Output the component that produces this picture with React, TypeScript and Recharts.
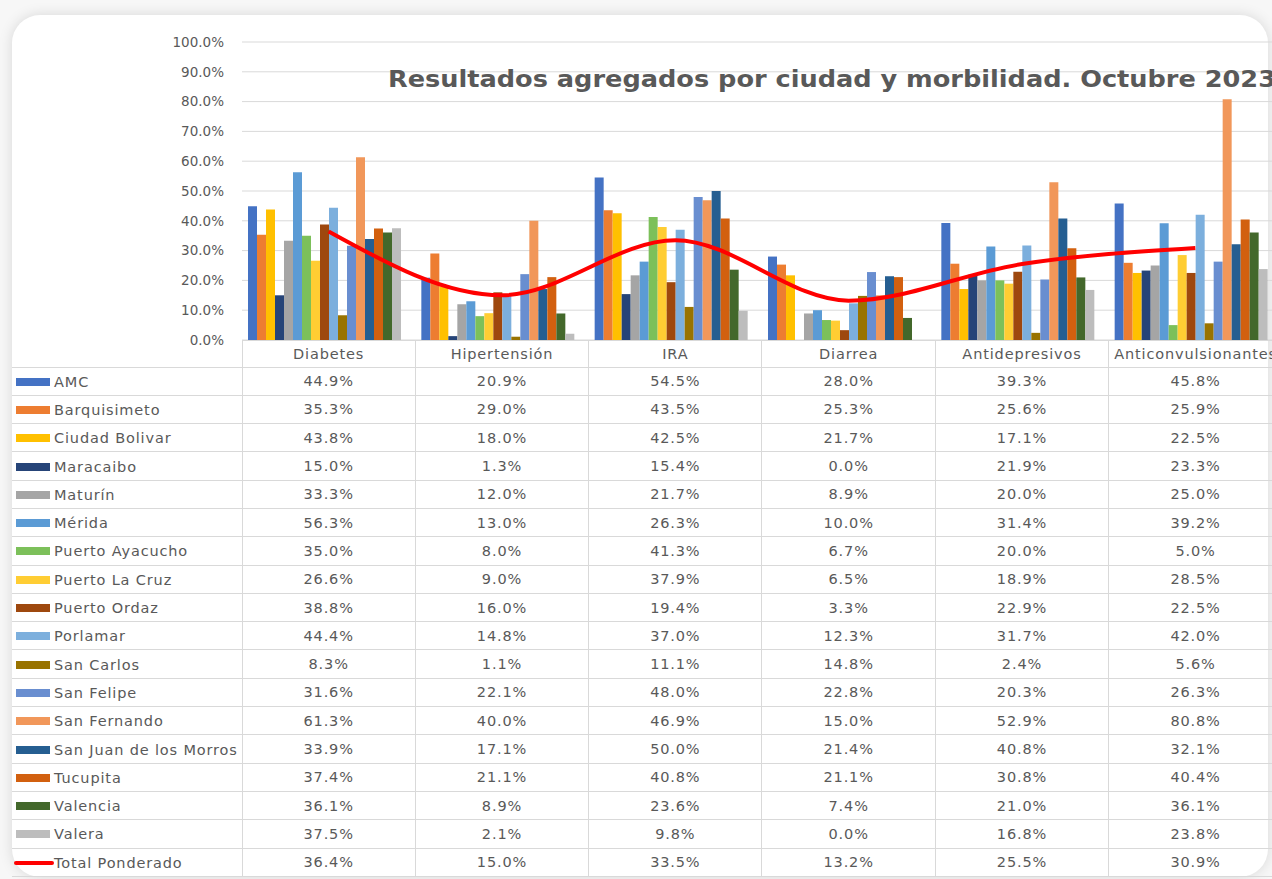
import { ComposedChart, Bar, Line, XAxis, YAxis, CartesianGrid, Customized } from 'recharts';

const categories = ['Diabetes', 'Hipertensión', 'IRA', 'Diarrea', 'Antidepresivos', 'Anticonvulsionantes'];

// % por ciudad, en el orden de categories
const amc = [44.9, 20.9, 54.5, 28.0, 39.3, 45.8];
const barquisimeto = [35.3, 29.0, 43.5, 25.3, 25.6, 25.9];
const ciudadBolivar = [43.8, 18.0, 42.5, 21.7, 17.1, 22.5];
const maracaibo = [15.0, 1.3, 15.4, 0.0, 21.9, 23.3];
const maturin = [33.3, 12.0, 21.7, 8.9, 20.0, 25.0];
const merida = [56.3, 13.0, 26.3, 10.0, 31.4, 39.2];
const puertoAyacucho = [35.0, 8.0, 41.3, 6.7, 20.0, 5.0];
const puertoLaCruz = [26.6, 9.0, 37.9, 6.5, 18.9, 28.5];
const puertoOrdaz = [38.8, 16.0, 19.4, 3.3, 22.9, 22.5];
const porlamar = [44.4, 14.8, 37.0, 12.3, 31.7, 42.0];
const sanCarlos = [8.3, 1.1, 11.1, 14.8, 2.4, 5.6];
const sanFelipe = [31.6, 22.1, 48.0, 22.8, 20.3, 26.3];
const sanFernando = [61.3, 40.0, 46.9, 15.0, 52.9, 80.8];
const sanJuan = [33.9, 17.1, 50.0, 21.4, 40.8, 32.1];
const tucupita = [37.4, 21.1, 40.8, 21.1, 30.8, 40.4];
const valencia = [36.1, 8.9, 23.6, 7.4, 21.0, 36.1];
const valera = [37.5, 2.1, 9.8, 0.0, 16.8, 23.8];
const totalPonderado = [36.4, 15.0, 33.5, 13.2, 25.5, 30.9];

const cities = [
  { name: 'AMC', values: amc },
  { name: 'Barquisimeto', values: barquisimeto },
  { name: 'Ciudad Bolivar', values: ciudadBolivar },
  { name: 'Maracaibo', values: maracaibo },
  { name: 'Maturín', values: maturin },
  { name: 'Mérida', values: merida },
  { name: 'Puerto Ayacucho', values: puertoAyacucho },
  { name: 'Puerto La Cruz', values: puertoLaCruz },
  { name: 'Puerto Ordaz', values: puertoOrdaz },
  { name: 'Porlamar', values: porlamar },
  { name: 'San Carlos', values: sanCarlos },
  { name: 'San Felipe', values: sanFelipe },
  { name: 'San Fernando', values: sanFernando },
  { name: 'San Juan de los Morros', values: sanJuan },
  { name: 'Tucupita', values: tucupita },
  { name: 'Valencia', values: valencia },
  { name: 'Valera', values: valera },
];

const colors = [
  '#4472C4', '#ED7D31', '#FFC000', '#264478', '#A5A5A5', '#5B9BD5',
  '#7CC05A', '#FFCD33', '#9E480E', '#7CAFDD', '#997300', '#698ED0',
  '#F1975A', '#255E91', '#D2600F', '#43682B', '#BDBDBD',
];

const yTicks = [0, 0.1, 0.2, 0.3, 0.4, 0.5, 0.6, 0.7, 0.8, 0.9, 1];

const FONT = '"DejaVu Sans", "Noto Sans", sans-serif';
const TEXT = '#595959';
const BORDER = '#d9d9d9';
const ROW_H = 28.3;

const rows = categories.map((category, i) => {
  const row: Record<string, string | number> = { category };
  cities.forEach((c, j) => {
    row[`s${j}`] = c.values[i] / 100;
  });
  row.total = totalPonderado[i] / 100;
  return row;
});

const pct = (v: number) => `${v.toFixed(1)}%`;

function Title() {
  return (
    <text
      x={388}
      y={87}
      fontSize={23}
      fontWeight={700}
      fill={TEXT}
      fontFamily={FONT}
      textLength={888}
      lengthAdjust="spacingAndGlyphs"
    >
      Resultados agregados  por ciudad y morbilidad.  Octubre 2023
    </text>
  );
}

const cellStyle = {
  borderTop: `1px solid ${BORDER}`,
  borderBottom: `1px solid ${BORDER}`,
  borderLeft: `1px solid ${BORDER}`,
  textAlign: 'center' as const,
  padding: 0,
  whiteSpace: 'nowrap' as const,
  overflow: 'hidden',
};

const legendCell = {
  borderTop: `1px solid ${BORDER}`,
  borderBottom: `1px solid ${BORDER}`,
  padding: 0,
  whiteSpace: 'nowrap' as const,
  textAlign: 'left' as const,
};

export default function App() {
  return (
    <div
      style={{
        position: 'absolute',
        left: 0,
        top: 0,
        width: 1272,
        height: 879,
        overflow: 'hidden',
        background: '#f7f7f7',
        fontFamily: FONT,
      }}
    >
      <div
        style={{
          position: 'absolute',
          left: 12,
          top: 15,
          width: 1256,
          height: 862,
          borderRadius: 28,
          background: '#ffffff',
          boxShadow: '0 0 14px rgba(0,0,0,0.13)',
        }}
      />
      <div style={{ position: 'absolute', left: 0, top: 0 }}>
        <ComposedChart
          width={1290}
          height={354}
          data={rows}
          margin={{ top: 42, right: 8, left: 0, bottom: 14 }}
          barCategoryGap={6}
          barGap={0}
        >
          <CartesianGrid vertical={false} stroke={BORDER} />
          <XAxis dataKey="category" hide />
          <YAxis
            domain={[0, 1]}
            ticks={yTicks}
            tickFormatter={(v: number) => pct(v * 100)}
            width={242}
            axisLine={false}
            tickLine={false}
            tickMargin={12}
            tick={{ fill: TEXT, fontSize: 13.5, fontFamily: FONT }}
          />
          {cities.map((c, j) => (
            <Bar key={c.name} dataKey={`s${j}`} name={c.name} fill={colors[j]} isAnimationActive={false} />
          ))}
          <Line
            type="monotone"
            dataKey="total"
            name="Total Ponderado"
            stroke="#FF0000"
            strokeWidth={4}
            dot={false}
            isAnimationActive={false}
          />
          <Customized component={Title} />
        </ComposedChart>
      </div>
      <table
        style={{
          position: 'absolute',
          left: 12,
          top: 340,
          width: 1270,
          borderCollapse: 'collapse',
          tableLayout: 'fixed',
          fontFamily: FONT,
          fontSize: 14.5,
          letterSpacing: 0.85,
          color: TEXT,
        }}
      >
        <colgroup>
          <col style={{ width: 230 }} />
          {categories.map((c) => (
            <col key={c} style={{ width: 173.33 }} />
          ))}
        </colgroup>
        <thead>
          <tr style={{ height: 26.5 }}>
            <th style={{ padding: 0, borderBottom: `1px solid ${BORDER}` }} />
            {categories.map((c) => (
              <th key={c} style={{ ...cellStyle, fontWeight: 400 }}>
                {c}
              </th>
            ))}
          </tr>
        </thead>
        <tbody>
          {cities.map((c, j) => (
            <tr key={c.name} style={{ height: ROW_H }}>
              <td style={legendCell}>
                <span
                  style={{
                    display: 'inline-block',
                    width: 34,
                    height: 8,
                    marginLeft: 4,
                    marginRight: 4,
                    background: colors[j],
                    verticalAlign: 'middle',
                  }}
                />
                <span style={{ verticalAlign: 'middle' }}>{c.name}</span>
              </td>
              {c.values.map((v, i) => (
                <td key={i} style={cellStyle}>
                  {pct(v)}
                </td>
              ))}
            </tr>
          ))}
          <tr style={{ height: ROW_H }}>
            <td style={legendCell}>
              <span
                style={{
                  display: 'inline-block',
                  width: 40,
                  height: 4,
                  marginLeft: 2,
                  borderRadius: 2,
                  background: '#FF0000',
                  verticalAlign: 'middle',
                }}
              />
              <span style={{ verticalAlign: 'middle' }}>Total Ponderado</span>
            </td>
            {totalPonderado.map((v, i) => (
              <td key={i} style={cellStyle}>
                {pct(v)}
              </td>
            ))}
          </tr>
        </tbody>
      </table>
    </div>
  );
}
